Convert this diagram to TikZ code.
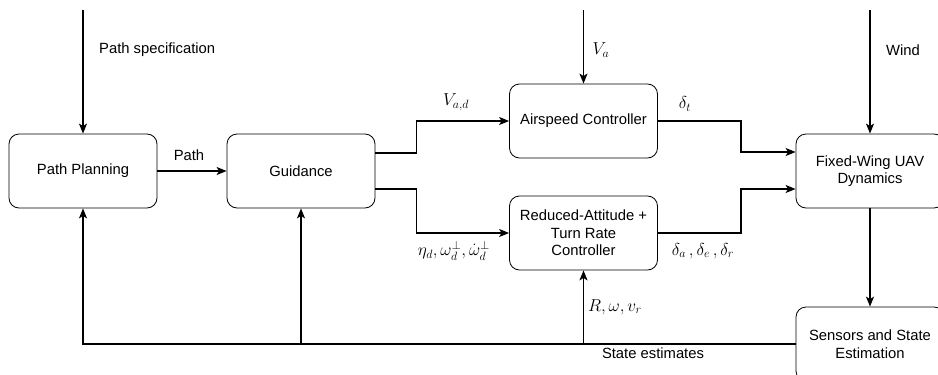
\documentclass[tikz,border=0pt]{standalone}
\usepackage{amsmath}
\usepackage{fontspec}
\setmainfont{Liberation Sans}
\usetikzlibrary{arrows.meta,calc}
\tikzset{
  blk/.style={draw=black, line width=0.8pt, rounded corners=10pt,
    minimum width=148pt, minimum height=74pt, inner sep=0pt, align=center,
    font=\fontsize{14.8}{17.5}\selectfont},
  arr/.style={draw=black, line width=1.4pt,
    -{Stealth[length=10pt,width=8pt,inset=2.5pt]}},
  lbl/.style={inner sep=0pt, font=\fontsize{14.8}{17.5}\selectfont},
  mlbl/.style={inner sep=0pt, font=\fontsize{17.28}{20}\selectfont}
}
\begin{document}
\begin{tikzpicture}[x=1pt,y=-1pt]
\useasboundingbox (0,0) rectangle (938,375);
\clip (0,0) rectangle (938,375);
\fill[white] (0,0) rectangle (938,375);

% blocks
\node[blk] (pp) at (83,171) {Path Planning};
\node[blk] (gd) at (301,171) {Guidance};
\node[blk] (as) at (583.5,121) {Airspeed Controller};
\node[blk] (ra) at (583.5,233) {Reduced-Attitude +\\Turn Rate\\Controller};
\node[blk] (uav) at (870,171) {Fixed-Wing UAV\\Dynamics};
\node[blk] (se) at (870,344) {Sensors and State\\Estimation};

% free ends
\coordinate (ps) at (83,10);
\coordinate (va) at (583.5,10);
\coordinate (wd) at (870,10);

% connectors
\draw[arr] (ps) -- (pp.north);
\draw[arr] (va) -- (as.north);
\draw[arr] (wd) -- (uav.north);
\draw[arr] (pp) -- (gd);
\draw[arr] ([yshift=18pt]gd.east) -- ++(41,0) |- (as.west);
\draw[arr] ([yshift=-18pt]gd.east) -- ++(41,0) |- (ra.west);
\draw[arr] (as.east) -- ++(83,0) |- ([yshift=19pt]uav.west);
\draw[arr] (ra.east) -- ++(83,0) |- ([yshift=-18pt]uav.west);
\draw[arr] (uav) -- (se);
\draw[arr] (se.west) -| (pp.south);
\draw[arr] (se.west) -| (gd.south);
\draw[arr] (se.west) -| (ra.south);

% labels
\node[lbl, anchor=west] (lps) at (99,50) {Path specification};
\node[lbl] (lpath) at (189,155) {Path};
\node[lbl] (lwind) at (903,50) {Wind};
\node[lbl] (lse) at (653,353) {State estimates};
\node[mlbl] (lvad) at (456,102) {$V_{a,d}$};
\node[mlbl] (lva) at (601,50) {$V_a$};
\node[mlbl] (ldt) at (685,104) {$\delta_t$};
\node[mlbl] (leta) at (454,251) {$\eta_d,\omega_d^{\perp},\dot{\omega}_d^{\perp}$};
\node[mlbl] (ldel) at (703,251) {$\delta_a\mkern3mu,\delta_e\mkern3mu,\delta_r$};
\node[mlbl] (lr) at (615,307) {$R,\omega,v_r$};
\end{tikzpicture}
\end{document}
